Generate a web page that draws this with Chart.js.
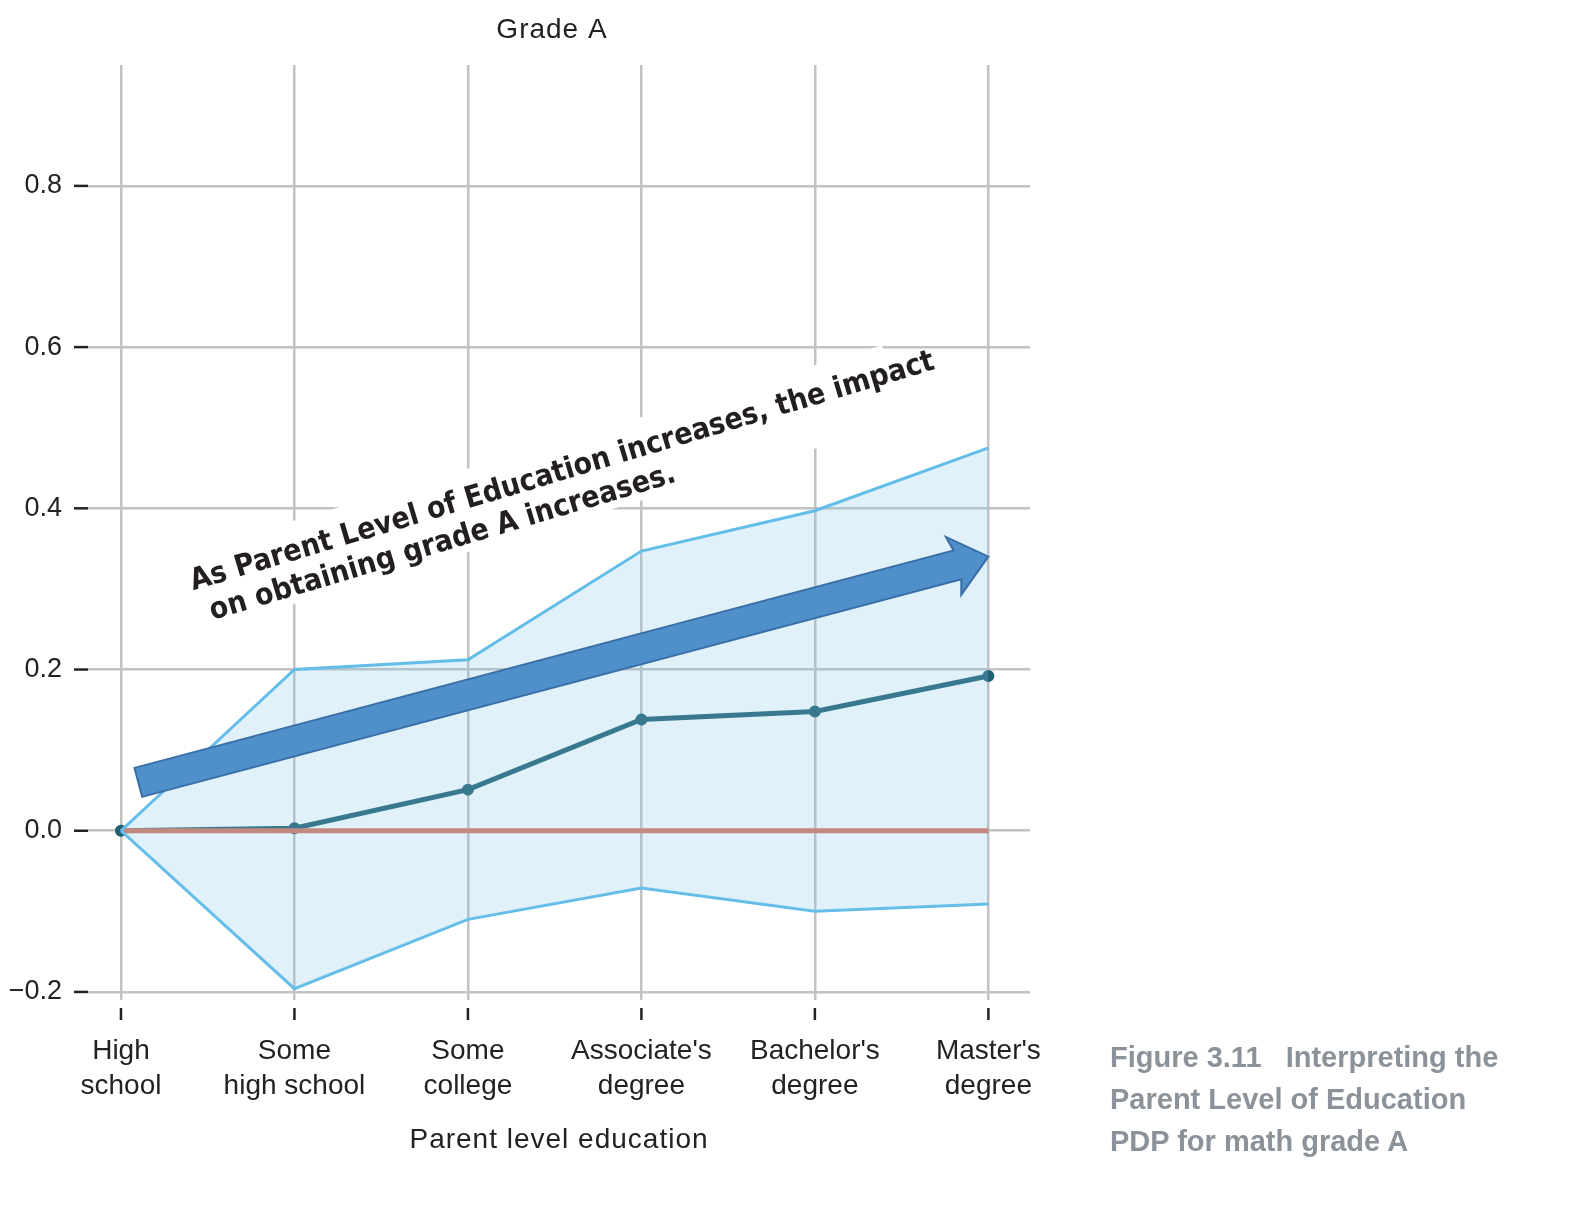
<!DOCTYPE html>
<html>
<head>
<meta charset="utf-8">
<script src="https://cdn.jsdelivr.net/npm/chart.js@4"></script>
<style>
  body { margin: 0; background: #fff; }
  #wrap { position: relative; width: 1596px; height: 1210px; }
  #caption { position: absolute; left: 1110px; top: 1036px; font: bold 29px "Liberation Sans", sans-serif; color: #8c929a; line-height: 42px; }
</style>
</head>
<body>
<div id="wrap">
  <canvas id="pdp" width="1596" height="1210"></canvas>
  <div id="caption">Figure 3.11&nbsp;&nbsp;&nbsp;Interpreting the<br>Parent Level of Education<br>PDP for math grade A</div>
</div>
<script>
const categories = [['High', 'school'], ['Some', 'high school'], ['Some', 'college'], ["Associate's", 'degree'], ["Bachelor's", 'degree'], ["Master's", 'degree']];
const meanValues = [0, 0.003, 0.051, 0.138, 0.148, 0.192];
const upperValues = [0, 0.2, 0.212, 0.347, 0.397, 0.475];
const lowerValues = [0, -0.196, -0.11, -0.071, -0.1, -0.091];
const yTicks = [-0.2, 0, 0.2, 0.4, 0.6, 0.8];
const arrowFrom = [0.1, 0.06];
const arrowTo = [5.0, 0.34];
const noteLines = ['As Parent Level of Education increases, the impact', 'on obtaining grade A increases.'];

const pts = arr => arr.map((v, i) => ({ x: i, y: v }));
const zeroLine = categories.map((c, i) => ({ x: i, y: 0 }));

const extras = {
  id: 'extras',
  beforeDatasetsDraw(chart) {
    const { ctx, scales: { x, y }, chartArea: a } = chart;
    ctx.save();
    ctx.strokeStyle = '#222';
    ctx.lineWidth = 2.5;
    yTicks.forEach(v => {
      const py = y.getPixelForValue(v);
      ctx.beginPath(); ctx.moveTo(a.left - 14, py); ctx.lineTo(a.left, py); ctx.stroke();
    });
    categories.forEach((c, i) => {
      const px = x.getPixelForValue(i);
      ctx.beginPath(); ctx.moveTo(px, a.bottom + 8); ctx.lineTo(px, a.bottom + 20); ctx.stroke();
    });
    ctx.fillStyle = '#222';
    ctx.font = '28px "Liberation Sans", sans-serif';
    ctx.letterSpacing = '1px';
    ctx.textAlign = 'center';
    ctx.fillText('Grade A', (a.left + a.right) / 2 - 7, 38);
    ctx.fillText('Parent level education', (a.left + a.right) / 2, 1148);
    ctx.restore();
  },
  afterDatasetsDraw(chart) {
    const { ctx, scales: { x, y } } = chart;
    const x1 = x.getPixelForValue(arrowFrom[0]), y1 = y.getPixelForValue(arrowFrom[1]);
    const x2 = x.getPixelForValue(arrowTo[0]), y2 = y.getPixelForValue(arrowTo[1]);
    const ang = Math.atan2(y2 - y1, x2 - x1);
    const len = Math.hypot(x2 - x1, y2 - y1);
    ctx.save();
    ctx.translate(x1 + 55, y1 - 192);
    ctx.rotate(-0.29);
    ctx.fillStyle = '#fff';
    ctx.fillRect(-10, -38, 740, 80);
    ctx.fillStyle = '#231f20';
    ctx.font = 'bold 30px "DejaVu Sans Condensed", "DejaVu Sans", sans-serif';
    ctx.fillText(noteLines[0], 0, 0);
    ctx.fillText(noteLines[1], 10, 34);
    ctx.restore();
    ctx.save();
    ctx.translate(x1, y1);
    ctx.rotate(ang);
    ctx.beginPath();
    ctx.moveTo(0, -15); ctx.lineTo(len - 32, -15); ctx.lineTo(len - 36, -30);
    ctx.lineTo(len, 0); ctx.lineTo(len - 36, 30); ctx.lineTo(len - 32, 15);
    ctx.lineTo(0, 15); ctx.closePath();
    ctx.fillStyle = '#4f8fca';
    ctx.strokeStyle = '#3a6fa6';
    ctx.lineWidth = 2;
    ctx.fill(); ctx.stroke();
    ctx.restore();
  }
};

new Chart(document.getElementById('pdp'), {
  type: 'line',
  data: {
    datasets: [
      { data: pts(upperValues), borderColor: '#62bde8', borderWidth: 3, pointRadius: 0, fill: '+1', backgroundColor: 'rgba(130,200,235,0.25)', tension: 0 },
      { data: pts(lowerValues), borderColor: '#62bde8', borderWidth: 3, pointRadius: 0, fill: false, tension: 0 },
      { data: zeroLine, borderColor: '#d8745a', borderWidth: 5, pointRadius: 0, fill: false },
      { data: pts(meanValues), borderColor: '#1f5f70', borderWidth: 5, pointRadius: 3.5, pointBackgroundColor: '#1f5f70', pointBorderColor: '#1f5f70', fill: false, tension: 0 }
    ]
  },
  options: {
    responsive: false,
    animation: false,
    layout: { padding: { top: 65, right: 566, left: 0, bottom: 0 } },
    plugins: { legend: { display: false }, tooltip: { enabled: false }, title: { display: false } },
    scales: {
      x: {
        type: 'linear', min: -0.19, max: 5.24,
        afterBuildTicks: s => { s.ticks = categories.map((c, i) => ({ value: i })); },
        afterFit: s => { s.height = 210; },
        border: { display: false },
        grid: { color: '#c2c2c2', lineWidth: 2.5, drawTicks: false },
        ticks: { padding: 34, color: '#222', font: { size: 28, family: '"Liberation Sans", sans-serif', lineHeight: 1.25 }, callback: v => categories[v] }
      },
      y: {
        min: -0.21, max: 0.95,
        afterBuildTicks: s => { s.ticks = yTicks.map(v => ({ value: v })); },
        afterFit: s => { s.width = 88; },
        border: { display: false },
        grid: { color: '#c2c2c2', lineWidth: 2.5, drawTicks: false },
        ticks: { padding: 26, color: '#222', font: { size: 27, family: '"Liberation Sans", sans-serif' }, callback: v => (v < 0 ? '\u2212' : '') + Math.abs(v).toFixed(1) }
      }
    }
  },
  plugins: [extras]
});
</script>
</body>
</html>
